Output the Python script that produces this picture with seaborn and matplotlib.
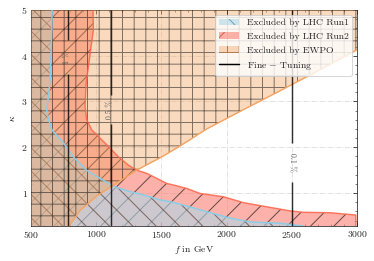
import numpy as np
import matplotlib
matplotlib.use("Agg")
import matplotlib.pyplot as plt
from matplotlib.patches import Patch
from matplotlib.lines import Line2D
from matplotlib.colors import to_rgba
from matplotlib.ticker import MultipleLocator
import seaborn as sns

# LHC Run1 exclusion boundary, f (GeV) read along kappa
run1_kappa = [0.28, 0.34, 0.37, 0.45, 0.59, 0.72, 0.81, 0.85, 0.96, 1.03, 1.10, 1.17,
              1.32, 1.50, 1.79, 2.09, 2.38, 2.60, 2.81, 3.11, 3.47, 3.98, 4.56, 5.0]
run1_f = [2590, 2410, 2180, 2030, 1850, 1690, 1570, 1490, 1360, 1260, 1180, 1120,
          1030, 925, 825, 750, 660, 635, 620, 633, 646, 653, 659, 662]

# LHC Run2 exclusion boundary
run2_kappa = [0.28, 0.52, 0.57, 0.58, 0.61, 0.70, 0.79, 0.92, 0.99, 1.10, 1.17, 1.21,
              1.32, 1.43, 1.50, 1.61, 1.79, 1.98, 2.20, 2.38, 2.60, 2.89, 3.40, 3.76,
              4.20, 4.56, 5.0]
run2_f = [2990, 2990, 2793, 2588, 2486, 2307, 2128, 1975, 1796, 1694, 1600, 1540,
          1464, 1387, 1310, 1246, 1170, 1106, 1029, 965, 927, 914, 922, 940,
          960, 978, 975]

# EWPO boundary, kappa read along f (excluded above)
ewpo_f = [790, 876, 1004, 1131, 1310, 1515, 1643, 1847, 2100, 2400, 2700, 3000]
ewpo_kappa = [0.28, 0.62, 0.94, 1.17, 1.50, 1.81, 2.03, 2.40, 2.78, 3.22, 3.67, 4.13]

# fine-tuning contours
ft_f = [780, 1110, 2500]
ft_labels = ["1 %", "0.5 %", "0.1 %"]
ft_label_kappa = [3.95, 2.82, 1.66]
ft_gap_lo = [3.6, 2.5, 1.25]
ft_gap_hi = [4.35, 3.15, 2.1]

sns.set_style("ticks")
plt.rcParams["font.family"] = ["serif"]
plt.rcParams["font.serif"] = ["cmr10", "DejaVu Serif"]
plt.rcParams["mathtext.fontset"] = "cm"
plt.rcParams["axes.formatter.use_mathtext"] = True
plt.rcParams["font.size"] = 10
plt.rcParams["hatch.linewidth"] = 1.0

xmin, xmax, ymin, ymax = 500, 3000, 0.28, 5.0

fig, ax = plt.subplots(figsize=(374 / 70, 261 / 70), dpi=70)
fig.subplots_adjust(left=0.083, right=0.955, top=0.962, bottom=0.134)

c_run1 = to_rgba("lightblue", 0.6)
c_run2 = to_rgba("salmon", 0.6)
c_ewpo = to_rgba("sandybrown", 0.4)

# Run2 (bottom layer)
ax.fill_betweenx(run2_kappa, xmin, run2_f, facecolor=c_run2,
                 edgecolor=to_rgba("k", 0.6), hatch="/", linewidth=0, zorder=1)
# Run1
ax.fill_betweenx(run1_kappa, xmin, run1_f, facecolor=c_run1,
                 edgecolor=to_rgba("#5a3a30", 0.7), hatch="\\", linewidth=0, zorder=2)
# EWPO
ax.fill_between([xmin] + ewpo_f, [ymin] + ewpo_kappa, ymax, facecolor=c_ewpo,
                edgecolor=to_rgba("k", 0.5), hatch="+", linewidth=0, zorder=3)

sns.lineplot(x=run2_f, y=run2_kappa, sort=False, estimator=None, ax=ax,
             color="tomato", alpha=0.85, lw=1.5, zorder=4)
sns.lineplot(x=run1_f, y=run1_kappa, sort=False, estimator=None, ax=ax,
             color="skyblue", lw=1.5, zorder=4)
sns.lineplot(x=ewpo_f, y=ewpo_kappa, sort=False, estimator=None, ax=ax,
             color="sandybrown", lw=1.5, zorder=4)

for f, lab, ky, lo, hi in zip(ft_f, ft_labels, ft_label_kappa, ft_gap_lo, ft_gap_hi):
    ax.vlines([f, f], [ymin, hi], [lo, ymax], color="k", alpha=0.8, lw=1.5, zorder=5)
    rot = 270 if f > 2000 else 90
    ax.text(f, ky, lab, rotation=rot, ha="center", va="center", fontsize=8,
            color="0.35", zorder=5)

ax.set_xlim(xmin, xmax)
ax.set_ylim(ymin, ymax)
ax.xaxis.set_major_locator(MultipleLocator(500))
ax.xaxis.set_minor_locator(MultipleLocator(100))
ax.yaxis.set_major_locator(MultipleLocator(1))
ax.yaxis.set_minor_locator(MultipleLocator(0.2))
ax.tick_params(which="both", direction="in", top=True, right=True)
ax.tick_params(which="major", length=4)
ax.tick_params(which="minor", length=2)
ax.grid(True, which="major", linestyle="-.", color="0.85", lw=0.8)
ax.set_xlabel("$f$ in GeV")
ax.set_ylabel(r"$\kappa$")

handles = [
    Patch(facecolor=c_run1, edgecolor=to_rgba("steelblue", 0.7), hatch="\\", lw=0,
          label="Excluded by LHC Run1"),
    Patch(facecolor=c_run2, edgecolor=to_rgba("firebrick", 0.6), hatch="/", lw=0,
          label="Excluded by LHC Run2"),
    Patch(facecolor=c_ewpo, edgecolor=to_rgba("saddlebrown", 0.6), hatch="+", lw=0,
          label="Excluded by EWPO"),
    Line2D([], [], color="k", lw=1.5, label="Fine $-$ Tuning"),
]
ax.legend(handles=handles, loc="upper right", fontsize=10, framealpha=0.8)

fig.savefig("out.png", dpi=70)
